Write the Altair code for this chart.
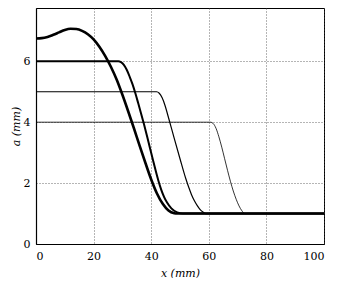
import altair as alt
import pandas as pd

# curve A (thickest, with bump)
a_x = [0, 2, 4, 6, 8, 10, 12, 14, 16, 18, 20, 22, 24, 26, 28, 30, 32, 34, 36, 38, 40, 42, 44, 46, 48, 49, 100]
a_y = [6.75, 6.76, 6.8, 6.87, 6.95, 7.03, 7.07, 7.06, 7.0, 6.89, 6.72, 6.48, 6.18, 5.82, 5.4, 4.9,
       4.36, 3.8, 3.22, 2.66, 2.12, 1.66, 1.32, 1.1, 1.01, 1.0, 1.0]
# curve B (level 6)
b_x = [0, 28.6, 29.5, 30.5, 31.5, 32.5, 33.5, 34.5, 35.5, 36.5, 37.5, 38.5, 39.5, 40.5, 41.5, 42.5,
       43.5, 44.5, 45.5, 47, 49, 51, 100]
b_y = [6, 6, 5.97, 5.88, 5.72, 5.5, 5.25, 4.95, 4.62, 4.28, 3.93, 3.56, 3.18, 2.8, 2.43, 2.08,
       1.78, 1.54, 1.36, 1.17, 1.04, 1.0, 1.0]
# curve C (level 5)
c_x = [0, 41.9, 42.8, 43.8, 44.8, 45.8, 46.8, 48, 50, 52, 53, 54, 55, 56, 57, 58, 59, 100]
c_y = [5, 5, 4.95, 4.8, 4.55, 4.22, 3.88, 3.47, 2.8, 2.15, 1.87, 1.62, 1.42, 1.26, 1.13, 1.05, 1.0, 1.0]
# curve D (level 4)
d_x = [0, 60.6, 61.5, 62.5, 63.5, 64.5, 65.5, 66.5, 67.5, 68.5, 69.5, 70.5, 71.5, 72.5, 100]
d_y = [4, 4, 3.96, 3.8, 3.52, 3.18, 2.8, 2.42, 2.06, 1.74, 1.47, 1.25, 1.09, 1.0, 1.0]

curves = [("D", d_x, d_y, 0.8), ("C", c_x, c_y, 1.2), ("B", b_x, b_y, 2.0), ("A", a_x, a_y, 2.6)]

font = "DejaVu Serif"
x_scale = alt.Scale(domain=[0, 100], nice=False, zero=False)
y_scale = alt.Scale(domain=[0, 7.75], nice=False, zero=False)

layers = []
for name, xs, ys, w in curves:
    df = pd.DataFrame({"x": xs, "y": ys})
    enc_x = alt.X("x:Q", scale=x_scale,
                  axis=alt.Axis(values=[0, 20, 40, 60, 80, 100], title="x  (mm)"))
    enc_y = alt.Y("y:Q", scale=y_scale,
                  axis=alt.Axis(values=[0, 2, 4, 6], title="a  (mm)"))
    layers.append(
        alt.Chart(df).mark_line(color="black", strokeWidth=w, interpolate="monotone",
                                strokeJoin="round", strokeCap="butt")
        .encode(x=enc_x, y=enc_y)
    )

chart = alt.layer(*layers).properties(
    width=288, height=236,
    autosize=alt.AutoSizeParams(type="none"),
    padding={"left": 28, "top": 0, "right": 10, "bottom": 34},
).configure_view(
    stroke="black", strokeWidth=1
).configure_axis(
    grid=True, gridColor="#444", gridDash=[1, 2], gridWidth=0.8,
    domainColor="black", domainWidth=1.2,
    ticks=False,
    labelFont=font, labelFontSize=11, labelColor="black",
    titleFont=font, titleFontSize=11, titleFontStyle="italic",
    titleFontWeight="normal", titleColor="black",
).configure_axisX(
    labelPadding=6, titlePadding=6
).configure_axisY(
    labelPadding=6, titlePadding=2
)

chart.save("out.html", embed_options={"renderer": "svg", "actions": False})
